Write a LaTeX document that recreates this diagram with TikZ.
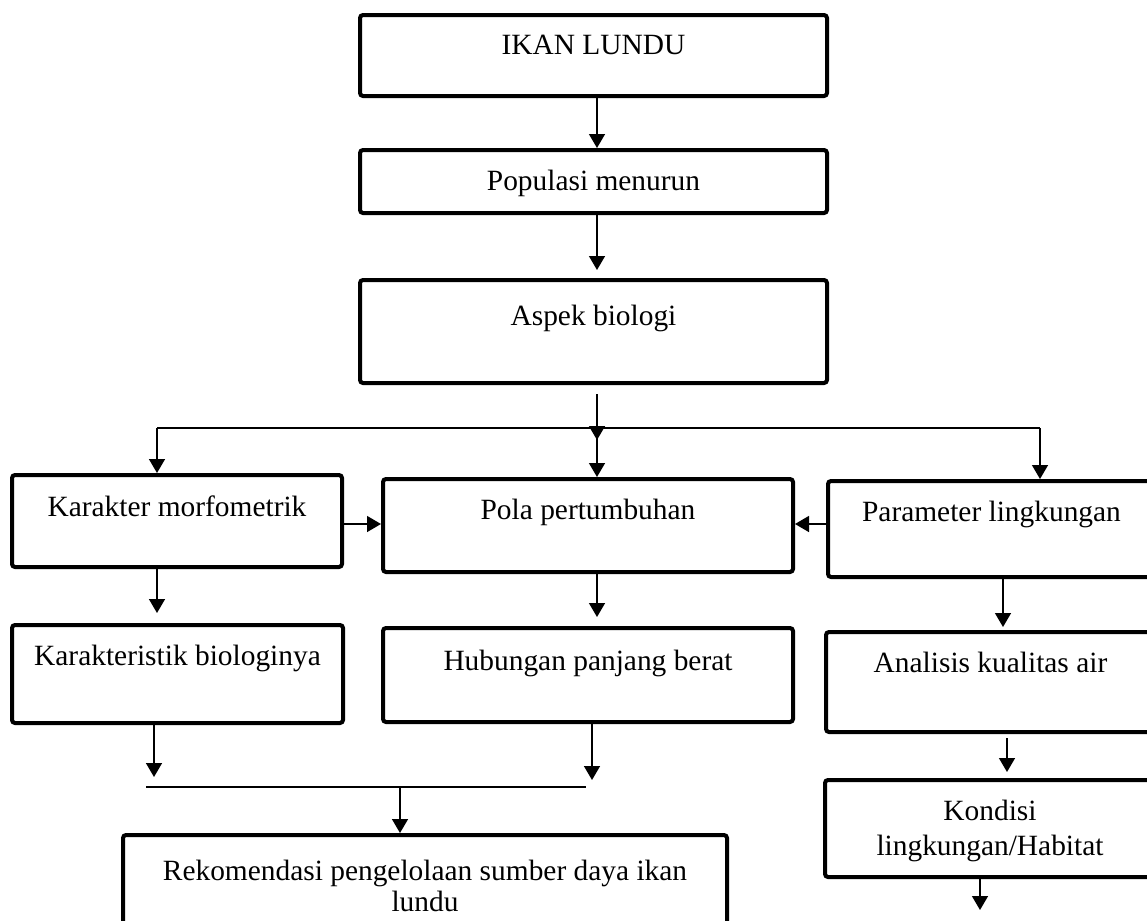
\documentclass[tikz,border=0pt]{standalone}
\usepackage{fontspec}
\setmainfont{Liberation Serif}
\usetikzlibrary{arrows.meta, positioning}
\newcommand{\lundufont}{\fontsize{14.7}{16.5}\selectfont}

\begin{document}
\begin{tikzpicture}[x=0.5pt,y=-0.5pt,
  box/.style n args={2}{draw, line width=2pt, rounded corners=1.5pt, inner sep=0pt,
    minimum width=#1, minimum height=#2},
  boxtext/.style={anchor=north, yshift=-11pt, inner sep=0pt, align=center, font=\lundufont},
  arr/.style={-{Triangle[width=8pt,length=7pt]}, line width=0.75pt},
  link/.style={line width=0.75pt}]
  \useasboundingbox (0,0) rectangle (1147,921);
  \clip (0,0) rectangle (1147,921);

  % --- TOP CHAIN ---
  \node[box={233.5pt}{40.5pt}, label={[boxtext]north:IKAN LUNDU}] (ikan) at (593.5,55.5) {};
  \node[box={233.5pt}{31.5pt}, label={[boxtext]north:Populasi menurun}] (pop) at (593.5,181.5) {};
  \node[box={233.5pt}{51.5pt}, label={[boxtext,yshift=-2.5pt]north:Aspek biologi}] (aspek) at (593.5,331.5) {};

  % --- BRANCHES ---
  \node[box={165pt}{46pt}, label={[boxtext]north:Karakter morfometrik}] (karakter) at (177,521) {};
  \node[box={205pt}{46.5pt}, label={[boxtext]north:Pola pertumbuhan}] (pola) at (588,525.5) {};
  \node[box={163.5pt}{48pt}, label={[boxtext]north:Parameter lingkungan}] (param) at (991.5,529) {};

  \node[box={165.5pt}{49pt}, label={[boxtext]north:Karakteristik biologinya}] (karbio) at (177.5,674) {};
  \node[box={205pt}{47pt}, label={[boxtext,yshift=-1pt]north:Hubungan panjang berat}] (hub) at (588,675) {};
  \node[box={164.5pt}{50pt}, label={[boxtext]north:Analisis kualitas air}] (analisis) at (990.5,682) {};
  \node[box={165pt}{48.5pt}, label={[boxtext,font=\fontsize{14.7}{17.5}\selectfont]north:Kondisi\\lingkungan/Habitat}] (kondisi) at (990,828.5) {};

  % --- RESULT ---
  \node[box={302pt}{65pt}, label={[boxtext,yshift=-2.5pt,font=\fontsize{14.7}{15.5}\selectfont]north:Rekomendasi pengelolaan sumber daya ikan\\lundu}] (rek) at (425,900) {};

  % junction points
  \coordinate (fork)  at (597,428);
  \coordinate (forkL) at (157,428);
  \coordinate (forkR) at (1040,428);
  \coordinate (dropL) at (154,777);
  \coordinate (dropR) at (592,780);
  \coordinate (joinL) at (146,787);
  \coordinate (joinR) at (586,787);
  \coordinate (join)  at (400,787);
  \coordinate (airIn) at (1003,627);
  \coordinate (habIn) at (1007,772);
  \coordinate (habOut) at (980,910);

  % --- CONNECTORS ---
  \draw[arr] (ikan.south -| fork) -- (pop.north -| fork);
  \draw[arr] (pop.south -| fork) -- ([yshift=4pt]aspek.north -| fork);
  \draw[arr] ([yshift=-4.5pt]aspek.south -| fork) -- ([yshift=-6pt]fork);
  \draw[link] (forkL) -- (forkR);
  \draw[arr] (forkL) -- (forkL |- karakter.north);
  \draw[arr] (fork) -- (fork |- pola.north);
  \draw[arr] (forkR) -- (forkR |- param.north);
  \draw[arr] ([yshift=-1.5pt]karakter.east) -- ([yshift=-1.5pt]pola.west |- karakter.east);
  \draw[arr] ([yshift=2.5pt]param.west) -- ([yshift=2.5pt]pola.east |- param.west);

  \draw[arr] (karakter.south -| forkL) -- ([yshift=5pt]karbio.north -| forkL);
  \draw[arr] (pola.south -| fork) -- ([yshift=4.5pt]hub.north -| fork);
  \draw[arr] (param.south -| airIn) -- (airIn);
  \draw[arr] ([yshift=-2pt]analisis.south -| habIn) -- (habIn);
  \draw[arr] (kondisi.south -| habOut) -- (habOut);

  \draw[arr] (karbio.south -| dropL) -- (dropL);
  \draw[arr] (hub.south -| dropR) -- (dropR);
  \draw[link] (joinL) -- (joinR);
  \draw[arr] (join) -- (rek.north -| join);
\end{tikzpicture}
\end{document}
